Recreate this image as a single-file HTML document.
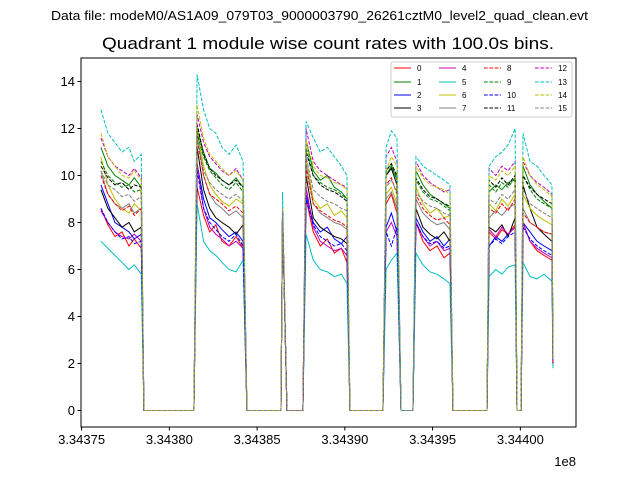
<!DOCTYPE html>
<html><head><meta charset="utf-8"><style>
body{margin:0;background:#fff}
svg{display:block;font-family:"Liberation Sans","DejaVu Sans",sans-serif}
</style></head><body>
<svg id="chart" width="640" height="480" viewBox="0 0 640 480">
<rect width="640" height="480" fill="#fff"/>
<text x="51" y="20" font-size="12.5" textLength="537" lengthAdjust="spacingAndGlyphs">Data file: modeM0/AS1A09_079T03_9000003790_26261cztM0_level2_quad_clean.evt</text>
<text x="102" y="49" font-size="16.5" textLength="452" lengthAdjust="spacingAndGlyphs">Quadrant 1 module wise count rates with 100.0s bins.</text>
<g id="plot"></g>
<g id="axes"></g>
<g id="legend"></g>
</svg>
<script>
const T0 = 334375000;
const times = [1100,1500,1900,2300,2700,3000,3400, 3550,6400, 6580,6950,7300,7650,8000,8400,8800,9200, 9420,11360, 11450, 11700,12610, 12790,13200,13600,14000,14400,14800,15120, 15290,17170, 17350,17650,17970, 18200,18880, 19050,19450,19850,20250,20650,20990, 21160,23100, 23220,23600,23950,24300,24700, 24810,25040, 25150,25550,25950,26350,26800, 26860];
const s0 = [8.6,7.9,7.4,7.6,7.0,7.3,6.9, 0,0, 9.5,8.3,7.6,7.9,7.2,7.0,7.4,6.9, 0,0, 8.4, 0,0, 9.0,7.6,7.0,7.3,6.7,6.9,6.3, 0,0, 8.8,9.2,8.4, 0,0, 8.0,7.2,6.8,7.0,6.5,6.7, 0,0, 7.6,7.3,7.7,7.5,7.9, 0,0, 8.0,7.2,6.8,6.6,6.4, 2.0];
const s1 = [11.2,10.4,10.0,9.8,9.6,9.9,9.5, 0,0, 12.0,11.0,10.3,10.1,9.8,9.6,9.9,9.5, 0,0, 8.5, 0,0, 11.5,10.2,9.8,10.0,9.5,9.3,9.0, 0,0, 10.0,10.4,9.8, 0,0, 10.2,9.6,9.2,9.0,8.8,8.6, 0,0, 9.3,9.6,9.4,9.7,9.8, 0,0, 10.4,9.6,9.2,8.9,8.6, 2.2];
const s2 = [9.6,8.8,8.0,7.8,7.6,7.3,7.5, 0,0, 10.5,9.0,8.2,8.0,7.7,7.4,7.6,7.2, 0,0, 8.4, 0,0, 9.2,8.0,7.6,7.8,7.3,7.1,7.4, 0,0, 7.8,8.4,7.6, 0,0, 8.2,7.6,7.2,7.4,7.0,7.3, 0,0, 7.0,7.4,7.2,7.5,7.8, 0,0, 8.0,7.6,7.2,7.0,6.8, 2.1];
const s3 = [9.4,8.6,8.2,7.8,8.0,7.6,7.8, 0,0, 11.2,9.4,8.6,8.2,8.0,7.8,7.5,7.9, 0,0, 8.5, 0,0, 10.0,8.2,7.8,7.6,7.4,7.3,7.1, 0,0, 10.0,10.3,9.6, 0,0, 8.6,7.8,7.5,7.3,7.6,7.2, 0,0, 7.8,7.6,7.9,7.4,8.2, 0,0, 9.6,8.6,7.8,7.5,7.2, 2.3];
const s4 = [8.5,8.0,7.6,7.4,7.3,7.5,7.2, 0,0, 10.5,8.6,7.8,7.5,7.3,7.0,7.2,6.9, 0,0, 8.4, 0,0, 9.5,7.8,7.2,7.0,6.8,6.9,6.6, 0,0, 7.6,8.0,7.4, 0,0, 8.0,7.4,7.0,7.2,6.8,6.9, 0,0, 7.7,7.4,7.8,7.5,7.8, 0,0, 8.0,7.2,6.9,6.7,6.5, 2.0];
const s5 = [7.2,6.9,6.6,6.3,6.0,6.2,5.8, 0,0, 8.8,7.2,6.8,6.6,6.3,6.0,5.9,6.4, 0,0, 8.5, 0,0, 7.5,6.4,6.0,5.9,5.7,5.8,5.4, 0,0, 6.0,6.4,6.7, 0,0, 6.7,6.2,5.9,5.8,5.6,5.4, 0,0, 5.7,6.0,5.8,6.1,6.2, 0,0, 6.3,5.7,5.6,5.8,5.5, 1.8];
const s6 = [10.8,9.6,9.0,8.6,8.4,8.8,8.5, 0,0, 12.0,10.4,9.6,9.2,8.9,8.7,9.0,8.8, 0,0, 8.5, 0,0, 10.8,9.0,8.6,8.8,8.3,8.5,8.2, 0,0, 9.2,9.5,8.8, 0,0, 9.5,8.8,8.4,8.6,8.2,8.3, 0,0, 8.8,8.5,9.0,8.7,9.2, 0,0, 9.2,8.6,8.3,8.1,7.9, 2.0];
const s7 = [10.2,9.2,8.8,8.6,8.8,8.4,8.6, 0,0, 11.8,10.0,9.2,8.8,8.6,8.3,8.5,8.2, 0,0, 8.5, 0,0, 10.5,8.8,8.4,8.2,8.0,7.9,7.7, 0,0, 9.0,9.3,8.6, 0,0, 9.0,8.4,8.1,7.9,8.0,7.7, 0,0, 8.2,8.5,8.3,8.6,8.8, 0,0, 8.6,8.0,7.8,7.6,7.5, 2.0];
const s8 = [10.0,9.2,8.8,8.5,8.7,8.3,8.6, 0,0, 11.5,10.0,9.2,9.0,8.8,8.5,8.7,8.4, 0,0, 8.4, 0,0, 10.3,8.8,8.5,8.3,8.1,8.0,7.8, 0,0, 9.6,9.9,9.2, 0,0, 9.2,8.6,8.3,8.1,8.2,7.9, 0,0, 8.6,8.4,8.8,8.5,9.0, 0,0, 8.4,8.0,7.8,7.6,7.5, 2.0];
const s9 = [10.6,10.0,9.7,9.5,9.6,9.3,9.4, 0,0, 11.8,10.8,10.2,9.9,9.6,9.4,9.7,9.3, 0,0, 8.5, 0,0, 11.2,10.0,9.7,9.5,9.4,9.2,9.0, 0,0, 10.2,10.5,9.9, 0,0, 9.8,9.3,9.0,8.9,8.7,8.5, 0,0, 9.6,9.3,9.7,9.5,9.9, 0,0, 10.0,9.4,9.0,8.8,8.6, 2.2];
const s10 = [8.6,8.0,7.6,7.3,7.4,7.1,7.2, 0,0, 10.2,8.6,8.0,7.7,7.4,7.2,7.5,7.0, 0,0, 8.4, 0,0, 9.0,7.9,7.4,7.2,7.0,7.1,6.8, 0,0, 7.6,7.0,7.8, 0,0, 8.0,7.4,7.1,7.2,6.9,7.0, 0,0, 7.0,7.3,7.1,7.4,7.6, 0,0, 7.8,7.3,7.0,6.8,6.6, 2.0];
const s11 = [10.4,9.9,9.6,9.7,9.4,9.6,9.5, 0,0, 12.2,10.9,10.3,10.0,9.8,9.6,9.8,9.5, 0,0, 8.5, 0,0, 11.0,10.0,9.6,9.4,9.3,9.1,8.9, 0,0, 10.2,10.5,10.0, 0,0, 9.9,9.4,9.1,9.0,8.8,8.7, 0,0, 9.8,9.5,9.9,9.6,10.0, 0,0, 10.0,9.5,9.2,9.0,8.8, 2.2];
const s12 = [11.6,10.8,10.4,10.2,10.0,10.3,9.9, 0,0, 12.6,11.4,10.8,10.5,10.2,10.0,10.3,9.8, 0,0, 8.6, 0,0, 12.0,10.6,10.2,10.0,9.8,9.6,9.5, 0,0, 10.8,11.2,10.6, 0,0, 10.6,10.0,9.7,9.5,9.3,9.4, 0,0, 10.3,10.0,10.4,10.2,10.6, 0,0, 10.6,10.0,9.7,9.5,9.2, 2.3];
const s13 = [12.8,11.8,11.4,11.0,11.2,10.6,10.9, 0,0, 14.3,12.8,12.0,11.8,11.2,10.9,11.3,10.6, 0,0, 9.3, 0,0, 12.3,11.6,11.0,11.2,10.8,10.4,10.0, 0,0, 11.2,11.9,11.6, 0,0, 10.8,10.4,10.2,10.0,9.8,9.6, 0,0, 10.4,10.8,11.0,11.3,12.0, 0,0, 11.8,10.6,10.4,10.0,9.6, 2.4];
const s14 = [11.8,10.8,10.4,10.0,9.9,10.2,9.8, 0,0, 13.0,11.6,10.9,10.6,10.3,10.0,10.2,9.8, 0,0, 8.6, 0,0, 11.5,10.4,10.0,9.9,9.7,9.6,9.4, 0,0, 10.2,10.8,10.4, 0,0, 10.4,9.9,9.6,9.5,9.4,9.2, 0,0, 10.0,9.8,10.2,10.0,10.4, 0,0, 10.8,10.0,9.6,9.4,9.1, 2.3];
const s15 = [10.2,9.6,9.4,9.1,9.2,8.9,9.1, 0,0, 11.6,10.2,9.7,9.4,9.2,9.0,9.2,8.9, 0,0, 8.5, 0,0, 10.8,9.4,9.1,8.9,8.8,8.6,8.5, 0,0, 9.5,9.8,9.3, 0,0, 9.3,8.9,8.7,8.6,8.4,8.3, 0,0, 9.0,8.8,9.2,9.0,9.4, 0,0, 9.4,8.8,8.6,8.4,8.2, 2.1];
const seriesValues = [s0,s1,s2,s3,s4,s5,s6,s7,s8,s9,s10,s11,s12,s13,s14,s15];
const seriesLabels = ["0","1","2","3","4","5","6","7","8","9","10","11","12","13","14","15"];
const xTickValues = [334375000,334380000,334385000,334390000,334395000,334400000];
const xTickLabels = ["3.34375","3.34380","3.34385","3.34390","3.34395","3.34400"];
const yTickValues = [0,2,4,6,8,10,12,14];
const yTickLabels = ["0","2","4","6","8","10","12","14"];

const colors = ["#ff0000","#008000","#0000ff","#000000","#bf00bf","#00bfbf","#bfbf00","#808080"];
const NS = "http://www.w3.org/2000/svg";
const L=81,R=576,TOP=58,B=427;
function xs(t){return 81.6+(t-T0)*0.01755;}
function ys(v){return 410.5-v*23.5;}
function mk(tag,attrs,parent){const e=document.createElementNS(NS,tag);for(const k in attrs)e.setAttribute(k,attrs[k]);parent.appendChild(e);return e;}
const plot=document.getElementById('plot');
const axes=document.getElementById('axes');
const leg=document.getElementById('legend');
const cp=mk('clipPath',{id:'clip'},plot);
mk('rect',{x:L,y:TOP,width:R-L,height:B-TOP},cp);
seriesValues.forEach((vals,i)=>{
  const d=vals.map((v,j)=>(j?'L':'M')+xs(T0+times[j]).toFixed(2)+' '+ys(v).toFixed(2)).join(' ');
  const p=mk('path',{d:d,fill:'none',stroke:colors[i%8],'stroke-width':1,'clip-path':'url(#clip)'},plot);
  if(i>=8)p.setAttribute('stroke-dasharray','3.7 1.6');
  
  
});
const frame=mk('rect',{x:L,y:TOP,width:R-L,height:B-TOP,fill:'none',stroke:'#000','stroke-width':1},axes);


xTickValues.forEach((t,i)=>{
  const x=xs(t);
  const tk=mk('line',{x1:x,x2:x,y1:B,y2:B+3.5,stroke:'#000'},axes);
  
  
  const tx=mk('text',{x:x,y:B+17,'text-anchor':'middle','font-size':13},axes);
  tx.textContent=xTickLabels[i];
  
  
});
yTickValues.forEach((v,i)=>{
  const y=ys(v);
  const tk=mk('line',{x1:L-3.5,x2:L,y1:y,y2:y,stroke:'#000'},axes);
  
  
  const tx=mk('text',{x:L-6,y:y+4.5,'text-anchor':'end','font-size':13},axes);
  tx.textContent=yTickLabels[i];
  
  
});
const off=mk('text',{x:576,y:466,'text-anchor':'end','font-size':13},axes);
off.textContent='1e8';


const lb=mk('rect',{x:391,y:62,width:181,height:55,rx:2,fill:'#fff','fill-opacity':0.8,stroke:'#ccc','stroke-width':1},leg);


const colX=[394,439,484,535], rowY=[68,82,95,108];
seriesLabels.forEach((lab,i)=>{
  const c=Math.floor(i/4), r=i%4;
  const g=mk('g',{},leg);
  
  
  const ln=mk('line',{x1:colX[c],x2:colX[c]+17,y1:rowY[r],y2:rowY[r],stroke:colors[i%8],'stroke-width':1},g);
  if(i>=8)ln.setAttribute('stroke-dasharray','3.7 1.6');
  const t=mk('text',{x:colX[c]+23,y:rowY[r]+3,'font-size':8},g);
  t.textContent=lab;
});
</script>
</body></html>
